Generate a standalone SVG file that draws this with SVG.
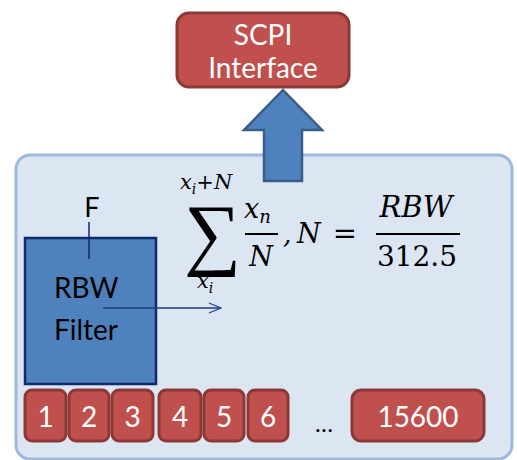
<svg xmlns="http://www.w3.org/2000/svg" width="517" height="460" viewBox="0 0 517 460">
<defs>
<style>
.red{fill:#c0504d;stroke:#8c3836;stroke-width:3}
.lbl{font-family:Lato,"Open Sans",sans-serif;font-size:28px;fill:#fff;text-anchor:middle}
.math{font-family:"DejaVu Serif",serif;font-style:italic;fill:#000}
.num{font-family:"DejaVu Serif",serif;fill:#000}
</style>
<marker id="open" markerWidth="14" markerHeight="12" refX="13" refY="6" orient="auto" markerUnits="userSpaceOnUse">
<path d="M1,1 L13,6 L1,11" fill="none" stroke="#1f3d8a" stroke-width="1.3"/>
</marker>
</defs>
<rect width="517" height="460" fill="#fff"/>
<g id="panel">
<rect x="16" y="155" width="496" height="304" rx="14" fill="#dce6f2" stroke="#9db9dd" stroke-width="3"/>
</g>
<g id="scpi">
<rect x="177" y="13" width="172" height="74" rx="12" class="red"/>
<text x="263" y="45" class="lbl">SCPI</text>
<text x="263" y="78" class="lbl">Interface</text>
</g>
<g id="connectors">
<path d="M283,90 L322,130 L302,130 L302,181 L264,181 L264,130 L244,130 Z" fill="#4f81bd" stroke="#385d8a" stroke-width="2.5"/>
</g>
<g id="rbw">
<rect x="25" y="238" width="131" height="146" fill="#4f81bd" stroke="#0f2a6b" stroke-width="2.5"/>
<text x="92" y="217" font-family="Lato,'Open Sans',sans-serif" font-size="27" text-anchor="middle" fill="#000">F</text>
<line x1="89" y1="222" x2="89" y2="259" stroke="#0f2a6b" stroke-width="1.5"/>
<text x="54" y="298" font-family="Lato,'Open Sans',sans-serif" font-size="28" fill="#000">RBW</text>
<text x="54" y="340" font-family="Lato,'Open Sans',sans-serif" font-size="28" fill="#000">Filter</text>
<line x1="103" y1="308" x2="221" y2="308" stroke="#1f3d8a" stroke-width="1.5" marker-end="url(#open)"/>
</g>
<g id="formula">
<text x="180" y="189" class="math" font-size="21">x<tspan font-size="14" dy="5">i</tspan><tspan dy="-5" font-style="normal">+</tspan>N</text>
<text x="184" y="260" font-family="'Liberation Serif',serif" font-size="80" fill="#000">∑</text>
<text x="197" y="288" class="math" font-size="21">x<tspan font-size="14" dy="5">i</tspan></text>
<text x="244" y="218" class="math" font-size="27">x<tspan font-size="18" dy="5">n</tspan></text>
<line x1="245" y1="234" x2="278" y2="234" stroke="#000" stroke-width="2"/>
<text x="261" y="266" class="math" font-size="27" text-anchor="middle">N</text>
<text x="283" y="243" class="math" font-size="27">,</text>
<text x="297" y="243" class="math" font-size="27">N</text>
<text x="345" y="243" class="num" font-size="29" text-anchor="middle">=</text>
<text x="416" y="217" class="math" font-size="29" text-anchor="middle">RBW</text>
<line x1="376" y1="234" x2="460" y2="234" stroke="#000" stroke-width="2"/>
<text x="417" y="266" class="num" font-size="28" text-anchor="middle">312.5</text>
</g>
<g id="cell1"><rect x="25" y="390" width="41" height="51" rx="7" class="red"/><text x="45.5" y="427" class="lbl">1</text></g>
<g id="cell2"><rect x="69" y="390" width="40" height="51" rx="7" class="red"/><text x="89" y="427" class="lbl">2</text></g>
<g id="cell3"><rect x="112" y="390" width="41" height="51" rx="7" class="red"/><text x="132.5" y="427" class="lbl">3</text></g>
<g id="cell4"><rect x="159" y="390" width="42" height="51" rx="7" class="red"/><text x="180" y="427" class="lbl">4</text></g>
<g id="cell5"><rect x="204" y="390" width="40" height="51" rx="7" class="red"/><text x="224" y="427" class="lbl">5</text></g>
<g id="cell6"><rect x="248" y="390" width="40" height="51" rx="7" class="red"/><text x="268" y="427" class="lbl">6</text></g>
<text x="324" y="432" font-family="Lato,'Open Sans',sans-serif" font-size="24" text-anchor="middle" fill="#000">…</text>
<g id="cell15600"><rect x="352" y="390" width="132" height="51" rx="9" class="red"/><text x="418" y="427" class="lbl">15600</text></g>
</svg>
